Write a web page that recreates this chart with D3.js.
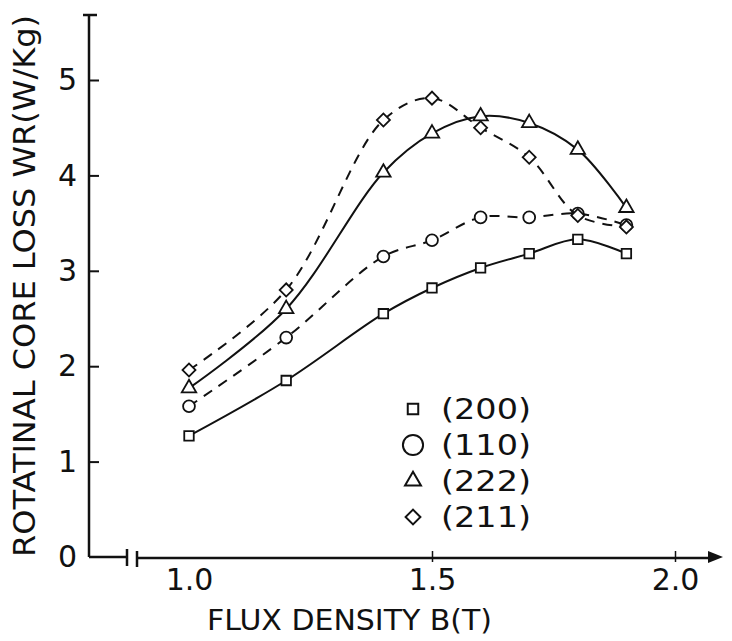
<!DOCTYPE html>
<html>
<head>
<meta charset="utf-8">
<script src="https://cdn.jsdelivr.net/npm/d3@7"></script>
<style>
  body { margin: 0; background: #fff; }
  svg text { font-family: "DejaVu Sans", sans-serif; fill: #111; }
</style>
</head>
<body>
<div id="chart"></div>
<script>
// flux density points (T)
const fluxB = [1.0, 1.2, 1.4, 1.5, 1.6, 1.7, 1.8, 1.9];
// rotational core loss (W/Kg) per orientation
const loss200 = [1.27, 1.85, 2.55, 2.82, 3.03, 3.18, 3.33, 3.18];
const loss110 = [1.58, 2.30, 3.15, 3.32, 3.56, 3.56, 3.60, 3.48];
const loss222 = [1.77, 2.60, 4.03, 4.44, 4.62, 4.55, 4.27, 3.66];
const loss211 = [1.96, 2.80, 4.58, 4.81, 4.50, 4.19, 3.58, 3.46];
const seriesNames = ["(200)", "(110)", "(222)", "(211)"];
const xTicks = [1.0, 1.5, 2.0];
const yTicks = [0, 1, 2, 3, 4, 5];

const W = 732, H = 641;
const svg = d3.select("#chart").append("svg")
  .attr("width", W).attr("height", H);

const x = d3.scaleLinear().domain([1.0, 2.0]).range([189, 675]);
const y = d3.scaleLinear().domain([0, 5]).range([557, 80]);

// rot = rotate the square to get a diamond
const series = [
  { name: seriesNames[0], vals: loss200, dash: null, sym: d3.symbolSquare, size: 90, rot: 0 },
  { name: seriesNames[1], vals: loss110, dash: "10,8", sym: d3.symbolCircle, size: 110, rot: 0 },
  { name: seriesNames[2], vals: loss222, dash: null, sym: d3.symbolTriangle, size: 90, rot: 0 },
  { name: seriesNames[3], vals: loss211, dash: "10,8", sym: d3.symbolSquare, size: 85, rot: 45 }
];

// y axis
const yAxis = d3.axisLeft(y).tickValues(yTicks).tickSizeInner(-10).tickSizeOuter(0).tickPadding(12)
  .tickFormat(d3.format("d"));
const gy = svg.append("g").attr("transform", "translate(89,0)").call(yAxis);
gy.select(".domain").remove();
gy.selectAll(".tick line").attr("stroke", "#111").attr("stroke-width", 2);
gy.selectAll(".tick text").attr("font-size", 30).style("font-family", "DejaVu Sans").attr("fill", "#111");
gy.selectAll(".tick").filter(d => d === 0).select("line").remove();
svg.append("path").attr("d", "M89,15V557").attr("stroke", "#111").attr("stroke-width", 2.5).attr("fill", "none");
svg.append("path").attr("d", "M83,15H97").attr("stroke", "#111").attr("stroke-width", 2.5);

// x axis
const xAxis = d3.axisBottom(x).tickValues(xTicks).tickSizeInner(-6).tickSizeOuter(0).tickPadding(12)
  .tickFormat(d3.format(".1f"));
const gx = svg.append("g").attr("transform", "translate(0,557)").call(xAxis);
gx.select(".domain").remove();
gx.selectAll(".tick line").attr("stroke", "#111").attr("stroke-width", 1.5)
  .attr("y1", 5).attr("y2", -6);
gx.selectAll(".tick").filter(d => d === 1.0).select("line").remove();
gx.selectAll(".tick text").attr("font-size", 30).attr("y", 33).attr("dy", 0)
  .style("font-family", "DejaVu Sans").attr("fill", "#111");

// axis line with break and arrow
svg.append("path").attr("d", "M89,557H127 M127,549V566 M137,551V567 M137,558H712")
  .attr("stroke", "#111").attr("stroke-width", 2.5).attr("fill", "none");
svg.append("path").attr("d", "M708,551L723,557L708,563Z").attr("fill", "#111");

// curves
const line = d3.line()
  .x((d, i) => x(fluxB[i]))
  .y(d => y(d))
  .curve(d3.curveCatmullRom.alpha(0.5));

series.forEach(s => {
  svg.append("path")
    .attr("d", line(s.vals))
    .attr("fill", "none")
    .attr("stroke", "#111")
    .attr("stroke-width", 2)
    .attr("stroke-dasharray", s.dash);
  svg.append("g").selectAll("path")
    .data(s.vals)
    .join("path")
    .attr("transform", (d, i) => `translate(${x(fluxB[i])},${y(d)}) rotate(${s.rot})`)
    .attr("d", d3.symbol().type(s.sym).size(s.size))
    .attr("fill", "#fff")
    .attr("stroke", "#111")
    .attr("stroke-width", 1.8);
});

// legend
const legend = svg.append("g");
series.forEach((s, i) => {
  const ly = 409 + i * 36;
  legend.append("path")
    .attr("transform", `translate(413,${ly}) rotate(${s.rot})`)
    .attr("d", d3.symbol().type(s.sym).size(s.sym === d3.symbolCircle ? 320 : 110))
    .attr("fill", "none").attr("stroke", "#111").attr("stroke-width", 2);
  legend.append("text")
    .attr("x", 441).attr("y", ly + 10)
    .attr("font-size", 28)
    .attr("textLength", 90).attr("lengthAdjust", "spacingAndGlyphs")
    .text(s.name);
});

// axis titles
svg.append("text")
  .attr("transform", "translate(35,557) rotate(-90)")
  .attr("font-size", 30)
  .attr("textLength", 542).attr("lengthAdjust", "spacingAndGlyphs")
  .text("ROTATINAL CORE LOSS WR(W/Kg)");

svg.append("text")
  .attr("x", 207).attr("y", 630)
  .attr("font-size", 28)
  .attr("textLength", 285).attr("lengthAdjust", "spacingAndGlyphs")
  .text("FLUX  DENSITY  B(T)");
</script>
</body>
</html>
